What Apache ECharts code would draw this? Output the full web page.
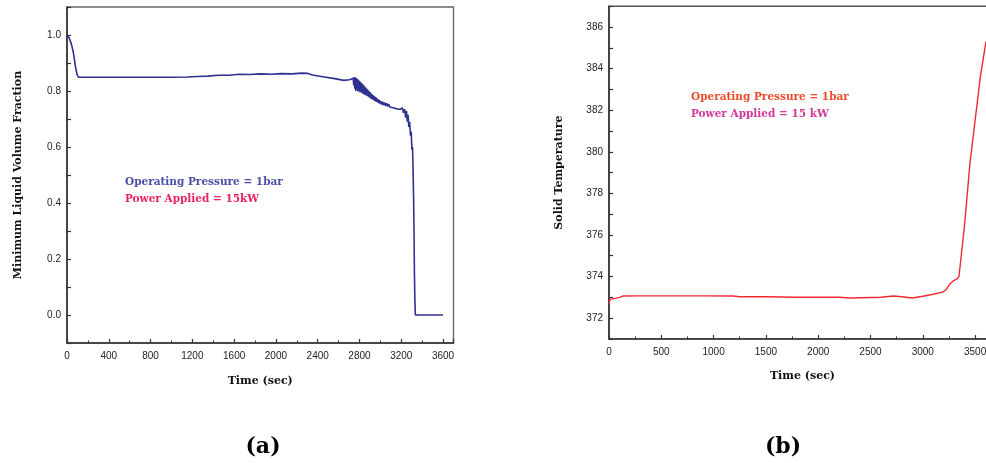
<!DOCTYPE html>
<html>
<head>
<meta charset="utf-8">
<script src="https://cdn.jsdelivr.net/npm/echarts@6/dist/echarts.min.js"></script>
<style>
  html, body { margin: 0; padding: 0; background: #fff; }
  #chart { width: 986px; height: 463px; }
</style>
</head>
<body>
<div id="chart"></div>
<script>
// (a) Minimum liquid volume fraction vs time
const fracTime = [0, 20, 40, 60, 80, 95, 110, 200, 400, 600, 800, 1000, 1150, 1250, 1350, 1450, 1550, 1650, 1750, 1850, 1950, 2050, 2150, 2250, 2300, 2350, 2450, 2550, 2650, 2700, 2720,
  2740, 2745, 2750, 2755, 2760, 2765, 2770, 2775, 2780, 2785, 2790, 2795, 2800, 2805, 2810, 2815, 2820, 2825, 2830, 2835, 2840, 2845, 2850, 2855, 2860, 2865, 2870, 2875, 2880, 2885, 2890, 2895,
  2900, 2905, 2910, 2915, 2920, 2925, 2930, 2935, 2940, 2945, 2950, 2955, 2960, 2965, 2970, 2975, 2980, 2985, 2990, 2995, 3000,
  3010, 3020, 3030, 3040, 3050, 3060, 3070, 3080, 3090, 3100, 3110, 3120, 3130, 3140, 3150, 3160, 3170, 3180, 3190, 3200,
  3210, 3222, 3232, 3242, 3250, 3258, 3265, 3272, 3280, 3288, 3295, 3302, 3308, 3314, 3318, 3322, 3326, 3330, 3335, 3600];
const fracValue = [1.0, 0.99, 0.97, 0.94, 0.89, 0.86, 0.849, 0.849, 0.849, 0.849, 0.849, 0.849, 0.850, 0.852, 0.853, 0.856, 0.856, 0.860, 0.859, 0.861, 0.860, 0.862, 0.861, 0.864, 0.863, 0.857, 0.851, 0.845, 0.838, 0.840, 0.842,
  0.846, 0.820, 0.850, 0.808, 0.848, 0.800, 0.846, 0.805, 0.843, 0.798, 0.840, 0.800, 0.836, 0.795, 0.832, 0.797, 0.828, 0.792, 0.825, 0.790, 0.820, 0.788, 0.816, 0.786, 0.812, 0.784, 0.808, 0.782, 0.804, 0.780, 0.800, 0.777,
  0.796, 0.774, 0.792, 0.772, 0.788, 0.770, 0.785, 0.768, 0.782, 0.765, 0.779, 0.763, 0.776, 0.761, 0.773, 0.759, 0.770, 0.757, 0.767, 0.755, 0.764,
  0.752, 0.762, 0.749, 0.759, 0.747, 0.756, 0.745, 0.753, 0.743, 0.750, 0.741, 0.748, 0.739, 0.746, 0.737, 0.744, 0.736, 0.742, 0.734, 0.741,
  0.740, 0.722, 0.735, 0.705, 0.728, 0.690, 0.715, 0.672, 0.690, 0.640, 0.655, 0.590, 0.600, 0.50, 0.42, 0.30, 0.15, 0.06, 0.0, 0.0];

// (b) Solid temperature vs time
const tempTime = [0, 10, 60, 100, 130, 300, 600, 900, 1185, 1250, 1500, 1800, 2000, 2200, 2300, 2400, 2600, 2720, 2800, 2900, 3000, 3100, 3190, 3220, 3260, 3300, 3330, 3346, 3400, 3450, 3500, 3550, 3604];
const tempValue = [372.7, 372.9, 372.95, 373.0, 373.06, 373.07, 373.07, 373.07, 373.06, 373.03, 373.03, 373.0, 373.0, 373.0, 372.97, 372.98, 373.0, 373.06, 373.03, 372.97, 373.05, 373.15, 373.25, 373.35, 373.65, 373.82, 373.9, 374.0, 376.5, 379.4, 381.5, 383.6, 385.3];

const fracTicksMajor = 400;
const tempTicksMajor = 500;

const pairs = (xs, ys) => xs.map((x, i) => [x, ys[i]]);

const labelFont = { fontFamily: '"Liberation Sans", Arial, sans-serif', fontSize: 10, color: '#222' };
const nameFont = { fontFamily: '"DejaVu Serif", serif', fontWeight: 'bold', fontSize: 11, color: '#111' };
const axisLine = { show: true, onZero: false, lineStyle: { color: '#333', width: 1.6 } };

const chart = echarts.init(document.getElementById('chart'), null, { renderer: 'canvas' });

chart.setOption({
  animation: false,
  backgroundColor: '#fff',
  grid: [
    { left: 67, top: 7, width: 386.5, height: 336, show: true, borderColor: '#666', borderWidth: 1.4, outerBoundsMode: 'none' },
    { left: 609, top: 6.2, width: 387, height: 332.7, show: true, borderColor: '#555', borderWidth: 1.4, outerBoundsMode: 'none' }
  ],
  xAxis: [
    {
      type: 'value', gridIndex: 0, min: 0, max: 3700, interval: fracTicksMajor,
      axisLine: axisLine,
      axisTick: { show: true, inside: true, length: 4, lineStyle: { color: '#333', width: 1.2 } },
      minorTick: { show: true, splitNumber: 2, length: 2.5, lineStyle: { color: '#333', width: 1 } },
      axisLabel: Object.assign({ margin: 8, formatter: v => (v <= 3600 ? String(v) : '') }, labelFont),
      splitLine: { show: false },
      name: 'Time (sec)', nameLocation: 'middle', nameGap: 33, nameTextStyle: nameFont
    },
    {
      type: 'value', gridIndex: 1, min: 0, max: 3700, interval: tempTicksMajor,
      axisLine: axisLine,
      axisTick: { show: true, inside: true, length: 4, lineStyle: { color: '#333', width: 1.2 } },
      minorTick: { show: true, splitNumber: 2, length: 2.5, lineStyle: { color: '#333', width: 1 } },
      axisLabel: Object.assign({ margin: 8, formatter: v => (v <= 3500 ? String(v) : '') }, labelFont),
      splitLine: { show: false },
      name: 'Time (sec)', nameLocation: 'middle', nameGap: 32, nameTextStyle: nameFont
    }
  ],
  yAxis: [
    {
      type: 'value', gridIndex: 0, min: -0.1, max: 1.1, interval: 0.1,
      axisLine: axisLine,
      axisTick: { show: true, inside: true, length: 4, lineStyle: { color: '#333', width: 1.2 } },
      axisLabel: Object.assign({ margin: 6, formatter: v => {
        const k = Math.round(v * 10);
        return (k >= 0 && k <= 10 && k % 2 === 0) ? (k / 10).toFixed(1) : '';
      } }, labelFont),
      splitLine: { show: false },
      name: 'Minimum Liquid Volume Fraction', nameLocation: 'middle', nameGap: 43, nameTextStyle: nameFont
    },
    {
      type: 'value', gridIndex: 1, min: 371, max: 387, interval: 1,
      axisLine: axisLine,
      axisTick: { show: true, inside: true, length: 4, lineStyle: { color: '#333', width: 1.2 } },
      axisLabel: Object.assign({ margin: 6, formatter: v => {
        const k = Math.round(v);
        return (k >= 372 && k <= 386 && k % 2 === 0) ? String(k) : '';
      } }, labelFont),
      splitLine: { show: false },
      name: 'Solid Temperature', nameLocation: 'middle', nameGap: 44, nameTextStyle: nameFont
    }
  ],
  series: [
    {
      type: 'line', xAxisIndex: 0, yAxisIndex: 0,
      data: pairs(fracTime, fracValue),
      showSymbol: false, smooth: false,
      lineStyle: { color: '#2e3192', width: 1.6 },
      itemStyle: { color: '#2e3192' }
    },
    {
      type: 'line', xAxisIndex: 1, yAxisIndex: 1,
      data: pairs(tempTime, tempValue),
      showSymbol: false, smooth: false,
      lineStyle: { color: '#ee2a30', width: 1.4 },
      itemStyle: { color: '#ee2a30' }
    }
  ],
  graphic: [
    { type: 'text', left: 125, top: 177, style: { text: 'Operating Pressure = 1bar', fill: '#4a4fa6', font: 'bold 10.5px "DejaVu Serif", serif' } },
    { type: 'text', left: 125, top: 194, style: { text: 'Power Applied = 15kW', fill: '#e8245e', font: 'bold 10.5px "DejaVu Serif", serif' } },
    { type: 'text', left: 691, top: 92, style: { text: 'Operating Pressure = 1bar', fill: '#ec4c2a', font: 'bold 10.5px "DejaVu Serif", serif' } },
    { type: 'text', left: 691, top: 109, style: { text: 'Power Applied = 15 kW', fill: '#d2389c', font: 'bold 10.5px "DejaVu Serif", serif' } },
    { type: 'text', x: 263, y: 447, style: { text: '(a)', fill: '#000', font: 'bold 22px "DejaVu Serif", serif', textAlign: 'center', textVerticalAlign: 'middle' } },
    { type: 'text', x: 783, y: 447, style: { text: '(b)', fill: '#000', font: 'bold 22px "DejaVu Serif", serif', textAlign: 'center', textVerticalAlign: 'middle' } }
  ]
});
</script>
</body>
</html>
